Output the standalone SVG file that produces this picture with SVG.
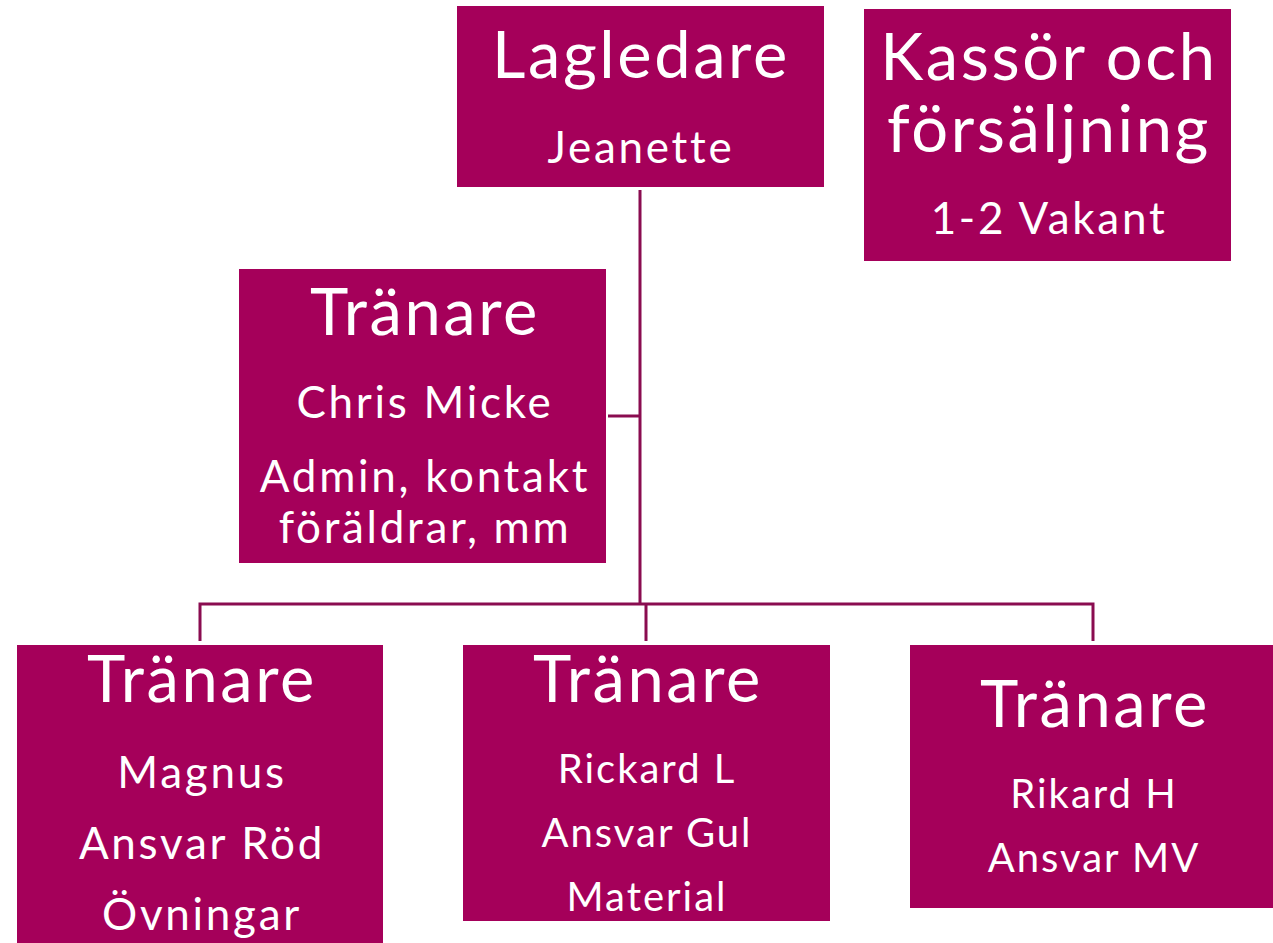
<svg xmlns="http://www.w3.org/2000/svg" width="1273" height="943" viewBox="0 0 1273 943">
<style>
.box{fill:#A5005A}
.t{fill:#fff;font-family:Lato,"Open Sans",sans-serif;text-anchor:middle}
.h{font-size:65px;letter-spacing:2.6px}
.s{font-size:44px;letter-spacing:2.7px}
.m{font-size:40px;letter-spacing:2px}
.c{stroke:#8A0C50;stroke-width:3;fill:none}
</style>
<rect width="1273" height="943" fill="#fff"/>
<g id="connectors">
<path class="c" d="M640 190V604M608 416H640M200 641V604H1093V641M646 604V641"/>
</g>
<g id="lagledare">
<rect class="box" x="457" y="6" width="367" height="181"/>
<text class="t h" x="641" y="78">Lagledare</text>
<text class="t s" x="641" y="163">Jeanette</text>
</g>
<g id="kassor">
<rect class="box" x="864" y="9" width="367" height="252"/>
<text class="t h" x="1049" y="80">Kassör och</text>
<text class="t h" x="1049" y="152">försäljning</text>
<text class="t s" x="1049" y="234">1-2 Vakant</text>
</g>
<g id="tranare-chris">
<rect class="box" x="239" y="269" width="367" height="294"/>
<text class="t h" x="425" y="335">Tränare</text>
<text class="t s" x="425" y="418">Chris Micke</text>
<text class="t s" x="425" y="492">Admin, kontakt</text>
<text class="t s" x="425" y="543">föräldrar, mm</text>
</g>
<g id="tranare-magnus">
<rect class="box" x="17" y="645" width="366" height="310"/>
<text class="t h" x="202" y="702">Tränare</text>
<text class="t s" x="202" y="788">Magnus</text>
<text class="t s" x="202" y="859">Ansvar Röd</text>
<text class="t s" x="202" y="930">Övningar</text>
</g>
<g id="tranare-rickard">
<rect class="box" x="463" y="645" width="367" height="276"/>
<text class="t h" x="648" y="702">Tränare</text>
<text class="t m" x="647" y="783">Rickard L</text>
<text class="t m" x="647" y="847">Ansvar Gul</text>
<text class="t m" x="647" y="911">Material</text>
</g>
<g id="tranare-rikard">
<rect class="box" x="910" y="645" width="367" height="263"/>
<text class="t h" x="1095" y="727">Tränare</text>
<text class="t m" x="1094" y="808">Rikard H</text>
<text class="t m" x="1094" y="872">Ansvar MV</text>
</g>
</svg>
